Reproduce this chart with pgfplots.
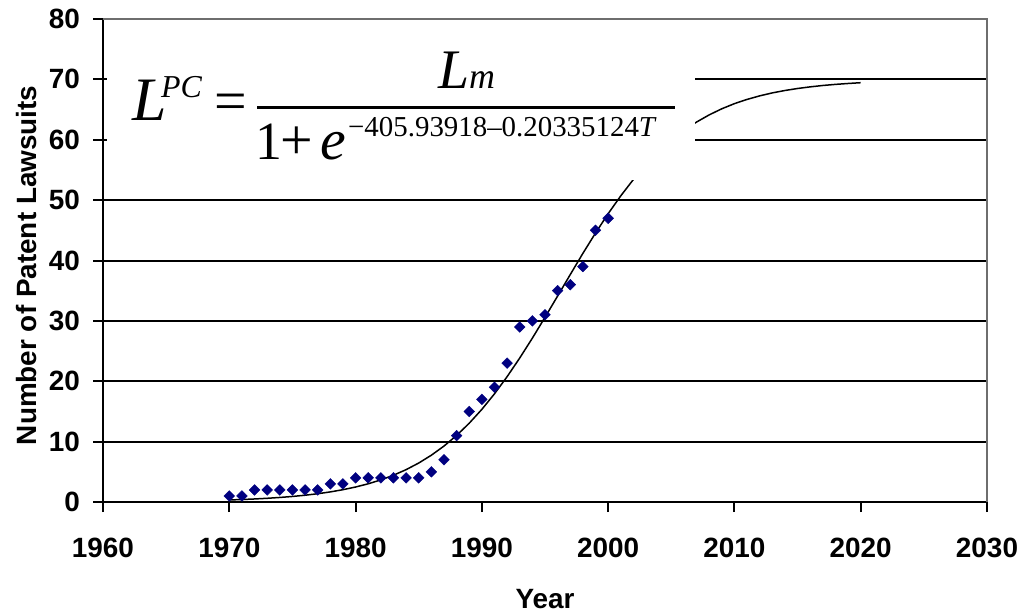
\documentclass[border=0pt]{standalone}
\usepackage{pgfplots}
\pgfplotsset{compat=1.18}
\usepackage{fontspec}
\setmainfont{Liberation Sans}
\newfontfamily\eqfont{Liberation Serif}
\definecolor{navy}{RGB}{0,0,128}
\definecolor{bordergray}{RGB}{110,110,110}
\pgfplotstableread{
year lawsuits
1970 1
1971 1
1972 2
1973 2
1974 2
1975 2
1976 2
1977 2
1978 3
1979 3
1980 4
1981 4
1982 4
1983 4
1984 4
1985 4
1986 5
1987 7
1988 11
1989 15
1990 17
1991 19
1992 23
1993 29
1994 30
1995 31
1996 35
1997 36
1998 39
1999 45
2000 47
}\observed
\pgfplotstableread{
year fit
1970 0.335
1971 0.410
1972 0.502
1973 0.614
1974 0.752
1975 0.918
1976 1.122
1977 1.370
1978 1.672
1979 2.038
1980 2.481
1981 3.016
1982 3.661
1983 4.433
1984 5.358
1985 6.454
1986 7.749
1987 9.264
1988 11.025
1989 13.048
1990 15.344
1991 17.92
1992 20.76
1993 23.85
1994 27.14
1995 30.59
1996 34.12
1997 37.67
1998 41.18
1999 44.55
2000 47.75
2001 50.71
2002 53.42
2003 55.85
2004 58.01
2005 59.90
2006 61.53
2007 62.93
2008 64.12
2009 65.13
2010 65.98
2011 66.68
2012 67.27
2013 67.76
2014 68.16
2015 68.49
2016 68.76
2017 68.99
2018 69.17
2019 69.32
2020 69.45
}\fitted
\begin{document}
\begin{tikzpicture}
\begin{axis}[
  scale only axis, width=884bp, height=483bp,
  xmin=1960, xmax=2030, ymin=0, ymax=80,
  xtick={1960,1970,...,2030}, ytick={0,10,...,80},
  axis lines=left, axis line style={-, black, line width=2bp},
  ymajorgrids, grid style={black, line width=2bp},
  tick align=outside, major tick length=10bp,
  tick style={black, line width=2bp},
  /pgf/number format/assume math mode=true,
  /pgf/number format/1000 sep={},
  tick label style={font=\fontsize{28}{28}\selectfont\bfseries},
  xticklabel style={anchor=base, yshift=-45bp},
  yticklabel style={anchor=east, inner sep=0pt, xshift=-13bp},
  xlabel={Year}, ylabel={Number of Patent Lawsuits},
  label style={font=\fontsize{28}{28}\selectfont\bfseries},
  xlabel style={at={(axis description cs:0.5,-0.2)}, anchor=center},
  ylabel style={at={(axis description cs:-0.087,0.49)}, anchor=center},
  clip=false,
]
\addplot[black, line width=1.5bp, no markers] table[x=year, y=fit] {\fitted};
\addplot[only marks, mark=square*, mark size=3.8bp, mark options={rotate=45, fill=navy, draw=navy}] table[x=year, y=lawsuits] {\observed};
\fill[white] (axis cs:1960.35,53.3) rectangle (axis cs:2006.9,79.6);
\draw[bordergray, line width=2bp] (rel axis cs:0,1) -- (rel axis cs:1,1) -- (rel axis cs:1,0);
\end{axis}
% equation
\node[anchor=base west, inner sep=0pt, font=\eqfont\fontsize{62}{62}\selectfont\itshape] at (29bp,381bp) {L};
\node[anchor=base west, inner sep=0pt, font=\eqfont\fontsize{32}{32}\selectfont\itshape] at (58bp,404bp) {PC};
\node[anchor=base, inner sep=0pt, font=\eqfont\fontsize{58}{58}\selectfont] at (128bp,381bp) {=};
\draw[black, line width=2.6bp] (154bp,394.3bp) -- (572bp,394.3bp);
\node[anchor=base west, inner sep=0pt, font=\eqfont\fontsize{56}{56}\selectfont\itshape] at (335bp,413bp) {L{\fontsize{36}{36}\selectfont m}};
\node[anchor=base, inner sep=0pt, font=\eqfont\fontsize{54}{54}\selectfont] at (166bp,342bp) {1};
\node[anchor=base, inner sep=0pt, font=\eqfont\fontsize{58}{58}\selectfont] at (194bp,342bp) {+};
\node[anchor=base, inner sep=0pt, font=\eqfont\fontsize{58}{58}\selectfont\itshape] at (230bp,342bp) {e};
\node[anchor=base west, inner sep=0pt, font=\eqfont\fontsize{29}{30}\selectfont] at (245bp,365bp) {−405.93918–0.20335124\textit{T}};
\pgfresetboundingbox
\path (-103bp,-112bp) rectangle (922bp,502bp);
\end{tikzpicture}
\end{document}
